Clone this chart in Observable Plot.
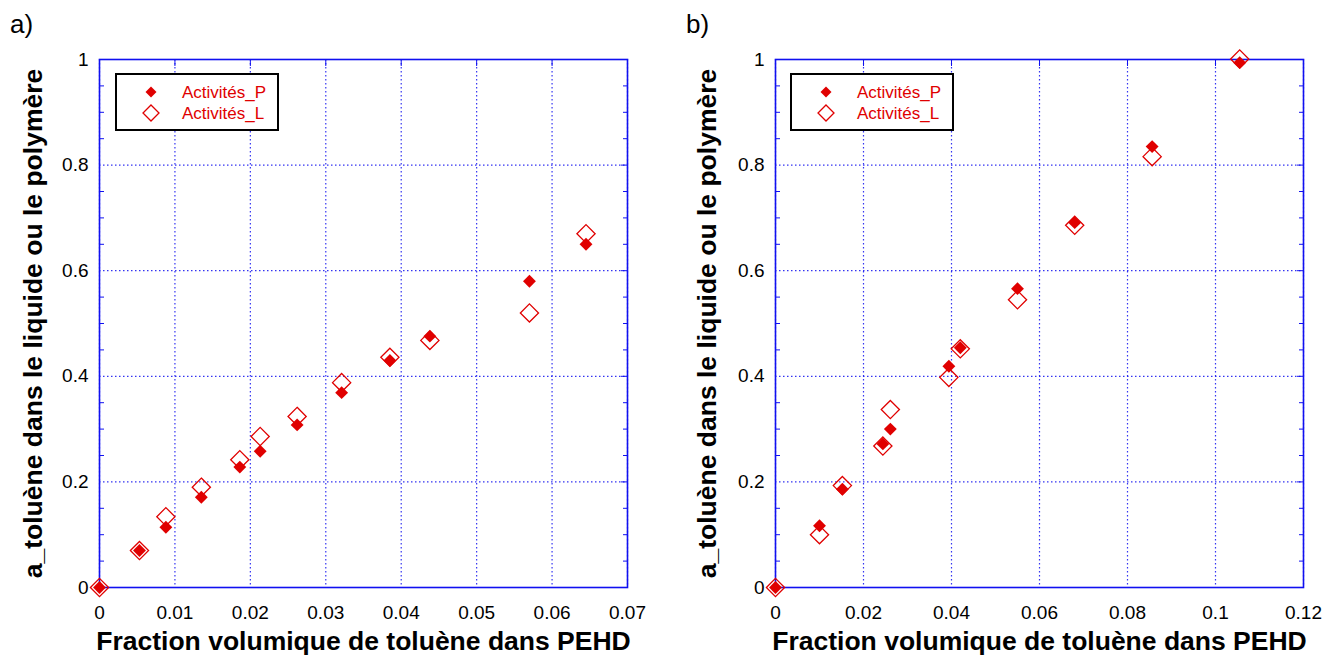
<!DOCTYPE html>
<html><head><meta charset="utf-8">
<script src="https://cdn.jsdelivr.net/npm/d3@7"></script>
<script src="https://cdn.jsdelivr.net/npm/@observablehq/plot@0.6"></script>
<style>
body{margin:0;background:#fff;}
#wrap{position:relative;width:1344px;height:657px;overflow:hidden;background:#fff;}
.panel{position:absolute;top:0;}
.tag{position:absolute;font-family:"Liberation Sans",Arial,sans-serif;font-size:26px;line-height:1;color:#000;}
.legend{position:absolute;}
</style></head><body><div id="wrap"></div>
<script>
// ---- data ----
const seriesNames = ["Activités_P", "Activités_L"];
const panelTags = ["a)", "b)"];
const xLabel = "Fraction volumique de toluène dans PEHD";
const yLabel = "a_toluène dans le liquide ou le polymère";

const xA = [0, 0.0053, 0.0088, 0.0135, 0.0186, 0.0213, 0.0262, 0.0321, 0.0385, 0.0438, 0.0570, 0.0645];
const pA = [0, 0.070, 0.114, 0.171, 0.228, 0.258, 0.308, 0.369, 0.430, 0.476, 0.580, 0.650];
const lA = [0, 0.070, 0.134, 0.190, 0.242, 0.286, 0.324, 0.388, 0.436, 0.468, 0.520, 0.670];

const xB = [0, 0.0100, 0.0152, 0.0244, 0.0261, 0.0394, 0.0420, 0.0550, 0.0680, 0.0856, 0.1055];
const pB = [0, 0.117, 0.186, 0.272, 0.300, 0.419, 0.454, 0.566, 0.691, 0.835, 0.994];
const lB = [0, 0.100, 0.193, 0.268, 0.337, 0.398, 0.452, 0.545, 0.686, 0.816, 1.001];

const xTicksA = [0, 0.01, 0.02, 0.03, 0.04, 0.05, 0.06, 0.07];
const xTicksB = [0, 0.02, 0.04, 0.06, 0.08, 0.10, 0.12];
const yTicks = [0, 0.2, 0.4, 0.6, 0.8, 1];
const yMinor = [0.05, 0.1, 0.15, 0.25, 0.3, 0.35, 0.45, 0.5, 0.55, 0.65, 0.7, 0.75, 0.85, 0.9, 0.95];

// ---- styling ----
const RED = "#e00000";
const BLUE = "#1010f0";
const W = 672, H = 657;
const fmt = d => `${+(+d).toFixed(4)}`;

function panel(xs, ps, ls, xTicks, xDomain, mLeft, mRight, labelDx) {
  const dp = xs.map((x, i) => ({x, y: ps[i]}));
  const dl = xs.map((x, i) => ({x, y: ls[i]}));
  return Plot.plot({
    width: W, height: H,
    marginLeft: mLeft, marginRight: mRight, marginTop: 59, marginBottom: 70,
    x: {domain: xDomain},
    y: {domain: [0, 1]},
    style: {fontFamily: "'Liberation Sans', Arial, sans-serif", fontSize: "19px", color: "#000", background: "#fff", overflow: "visible"},
    marks: [
      Plot.gridX(xTicks, {stroke: BLUE, strokeOpacity: 0.85, strokeWidth: 1.2, strokeDasharray: "1.5,2.5"}),
      Plot.gridY(yTicks, {stroke: BLUE, strokeOpacity: 0.85, strokeWidth: 1.2, strokeDasharray: "1.5,2.5"}),
      Plot.axisY(yMinor, {anchor: "left", tickSize: -5, text: null, stroke: BLUE, label: null}),
      Plot.axisY(yMinor, {anchor: "right", tickSize: -5, text: null, stroke: BLUE, label: null}),
      Plot.axisY(yTicks, {anchor: "right", tickSize: -7, text: null, stroke: BLUE, label: null}),
      Plot.axisY(yTicks, {anchor: "left", tickSize: 0, tickPadding: 11, label: null, fontSize: 19, tickFormat: fmt}),
      Plot.axisX(xTicks, {anchor: "bottom", tickSize: 0, tickPadding: 18, label: null, fontSize: 19, tickFormat: fmt}),
      Plot.axisX(xTicks, {anchor: "top", tickSize: -6, text: null, stroke: BLUE, label: null}),
      Plot.frame({stroke: BLUE, strokeWidth: 1.6}),
      Plot.text([yLabel], {text: d => d, frameAnchor: "left", rotate: -90, dx: labelDx, textAnchor: "middle", lineAnchor: "middle", fontWeight: "bold", fontSize: 26.5}),
      Plot.text([xLabel], {text: d => d, frameAnchor: "bottom", dy: 54, textAnchor: "middle", lineAnchor: "middle", fontWeight: "bold", fontSize: 26.5}),
      Plot.dot(dp, {x: "x", y: "y", symbol: "diamond2", r: 5.8, fill: RED}),
      Plot.dot(dl, {x: "x", y: "y", symbol: "diamond2", r: 8.2, stroke: RED, strokeWidth: 1.3, fill: "none"})
    ]
  });
}

function legendSvg(left, top) {
  const ns = "http://www.w3.org/2000/svg";
  const svg = document.createElementNS(ns, "svg");
  svg.setAttribute("class", "legend");
  svg.setAttribute("width", 164); svg.setAttribute("height", 58);
  svg.style.left = left + "px"; svg.style.top = top + "px";
  const rows = [19, 40];
  let html = `<rect x="1" y="1" width="162" height="56" fill="#fff" stroke="#000" stroke-width="2"/>`;
  seriesNames.forEach((name, i) => {
    const cy = rows[i], cx = 36;
    const h = i === 0 ? 5.5 : 8;
    const pts = `${cx},${cy - h} ${cx + h},${cy} ${cx},${cy + h} ${cx - h},${cy}`;
    html += i === 0
      ? `<polygon points="${pts}" fill="${RED}"/>`
      : `<polygon points="${pts}" fill="none" stroke="${RED}" stroke-width="1.3"/>`;
    html += `<text x="67" y="${cy + 6}" fill="${RED}" font-family="'Liberation Sans', Arial, sans-serif" font-size="17">${name}</text>`;
  });
  svg.innerHTML = html;
  return svg;
}

const wrap = document.getElementById("wrap");
const pa = panel(xA, pA, lA, xTicksA, [0, 0.07], 99, 45, -66);
pa.classList.add("panel"); pa.style.left = "0px";
wrap.appendChild(pa);
const pb = panel(xB, pB, lB, xTicksB, [0, 0.12], 103, 41, -68);
pb.classList.add("panel"); pb.style.left = "672px";
wrap.appendChild(pb);

wrap.appendChild(legendSvg(115, 73));
wrap.appendChild(legendSvg(790, 73));

[[10, 11], [686, 11]].forEach(([l, t], i) => {
  const d = document.createElement("div");
  d.className = "tag"; d.textContent = panelTags[i];
  d.style.left = l + "px"; d.style.top = t + "px";
  wrap.appendChild(d);
});
</script></body></html>
